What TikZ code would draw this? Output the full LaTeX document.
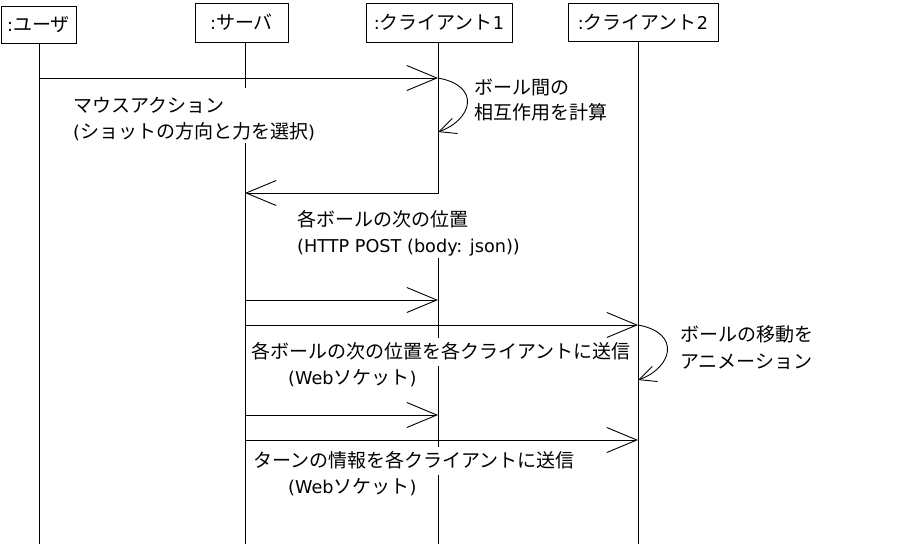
\documentclass[tikz,border=0pt]{standalone}
\usepackage{fontspec}
\setmainfont{Noto Sans CJK JP}
\newfontfamily\latfont[Scale=0.93]{DejaVu Sans}
\newcommand{\lat}[1]{{\latfont #1}}
\usetikzlibrary{arrows.meta}
\begin{document}
\begin{tikzpicture}[x=1pt,y=-1pt,
  every node/.style={font=\fontsize{19}{26}\selectfont},
  obj/.style={draw,line width=0.9pt,inner sep=0pt},
  life/.style={line width=0.9pt},
  msg/.style={line width=0.9pt,-{Straight Barb[length=30pt,width=25pt]}},
  selfmsg/.style={line width=0.9pt,-{Straight Barb[length=17pt,width=16pt]}},
  lbl/.style={anchor=north west,fill=white,inner xsep=2pt,inner ysep=2pt,align=left},
  lbline/.style={anchor=base west,fill=white,inner xsep=2pt,inner ysep=0pt,text height=20pt,text depth=8pt},
  note/.style={anchor=base west,inner xsep=2pt,inner ysep=0pt}]
\useasboundingbox (0,0) rectangle (904,544);
\fill[white] (0,0) rectangle (904,544);

% objects
\node[obj,minimum width=75pt,minimum height=37pt] (user) at (38.5,24.5) {\lat{:}ユーザ};
\node[obj,minimum width=93pt,minimum height=39pt] (server) at (241.5,22.5) {\lat{:}サーバ};
\node[obj,minimum width=146pt,minimum height=39pt] (cl1) at (439,22.5) {\lat{:}クライアント\lat{1}};
\node[obj,minimum width=150pt,minimum height=38pt] (cl2) at (643,22) {\lat{:}クライアント\lat{2}};

% lifelines
\coordinate (uT) at (39,43);  \coordinate (uB) at (39,544);
\coordinate (sT) at (245,42); \coordinate (sB) at (245,544);
\coordinate (aT) at (438,42); \coordinate (aB) at (438,544);
\coordinate (bT) at (638,41); \coordinate (bB) at (638,544);
\draw[life] (uT) -- (uB);
\draw[life] (sT) -- (sB);
\draw[life] (aT) -- (aB);
\draw[life] (bT) -- (bB);

% labels
\node[lbl] (lmouse) at (71,88) {\rule{0pt}{22pt}マウスアクション\\\lat{(}ショットの方向と力を選択\lat{)}};
\node[lbl] (lhttp) at (295,194) {\rule{0pt}{30pt}各ボールの次の位置\\\lat{(HTTP POST (body: json))}};
\node[lbline] (lpos1) at (249,358) {各ボールの次の位置を各クライアントに送信};
\node[lbline] (lpos2) at (286,384) {\lat{(Web}ソケット\lat{)}};
\node[lbline] (lturn1) at (251,467) {ターンの情報を各クライアントに送信};
\node[lbline] (lturn2) at (286,493) {\lat{(Web}ソケット\lat{)}};
\node[note] (lcalc1) at (472,94) {ボール間の};
\node[note] (lcalc2) at (472,119) {相互作用を計算};
\node[note] (lanim1) at (678,341) {ボールの移動を};
\node[note] (lanim2) at (678,368) {アニメーション};

% message points
\coordinate (m1s) at (39,78);   \coordinate (m1e) at (438,78);
\coordinate (l1e) at (438,132);
\coordinate (m2s) at (438,193); \coordinate (m2e) at (245,193);
\coordinate (m3s) at (245,300); \coordinate (m3e) at (438,300);
\coordinate (m4s) at (245,325); \coordinate (m4e) at (638,325);
\coordinate (l2e) at (638,380);
\coordinate (m5s) at (245,415); \coordinate (m5e) at (438,415);
\coordinate (m6s) at (245,440); \coordinate (m6e) at (638,440);

% messages
\draw[msg] (m1s) -- (m1e);
\draw[selfmsg] (m1e) .. controls (482,86) and (472,120) .. (l1e);
\draw[msg] (m2s) -- (m2e);
\draw[msg] (m3s) -- (m3e);
\draw[msg] (m4s) -- (m4e);
\draw[selfmsg] (m4e) .. controls (682,333) and (672,368) .. (l2e);
\draw[msg] (m5s) -- (m5e);
\draw[msg] (m6s) -- (m6e);
\end{tikzpicture}
\end{document}
